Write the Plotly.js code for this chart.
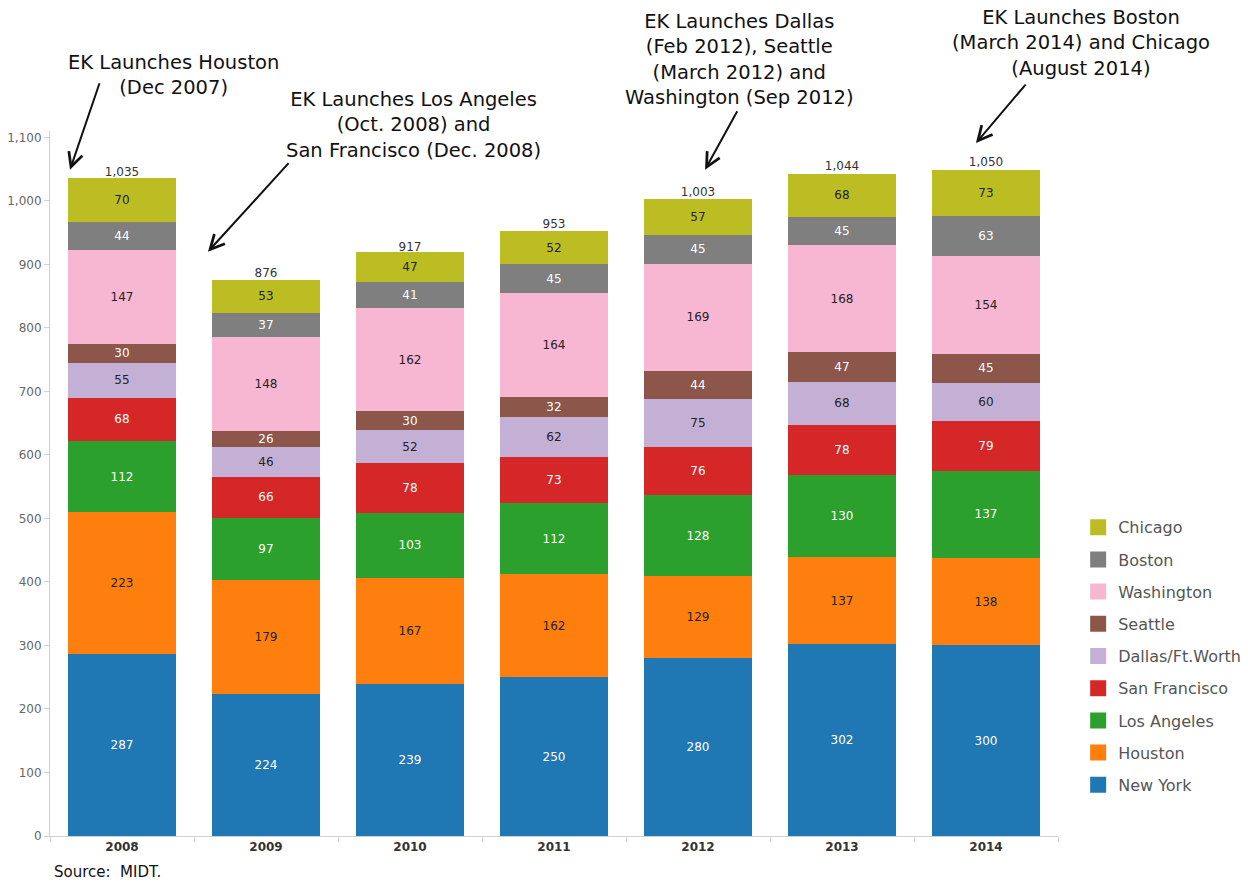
<!DOCTYPE html>
<html>
<head>
<meta charset="utf-8">
<script src="https://cdn.plot.ly/plotly-3.0.1.min.js"></script>
<style>html,body{margin:0;padding:0;background:#fff;}#chart{width:1248px;height:882px;}</style>
</head>
<body>
<div id="chart"></div>
<script>
const years = ['2008','2009','2010','2011','2012','2013','2014'];
const seriesNames = ['New York','Houston','Los Angeles','San Francisco','Dallas/Ft.Worth','Seattle','Washington','Boston','Chicago'];
const newYork = [287, 224, 239, 250, 280, 302, 300];
const houston = [223, 179, 167, 162, 129, 137, 138];
const losAngeles = [112, 97, 103, 112, 128, 130, 137];
const sanFrancisco = [68, 66, 78, 73, 76, 78, 79];
const dallas = [55, 46, 52, 62, 75, 68, 60];
const seattle = [30, 26, 30, 32, 44, 47, 45];
const washington = [147, 148, 162, 164, 169, 168, 154];
const boston = [44, 37, 41, 45, 45, 45, 63];
const chicago = [70, 53, 47, 52, 57, 68, 73];
const totals = [1035, 876, 917, 953, 1003, 1044, 1050];

const seriesValues = [newYork, houston, losAngeles, sanFrancisco, dallas, seattle, washington, boston, chicago];
const colors = ['#1f77b4','#ff7f0e','#2ca02c','#d62728','#c5b0d5','#8c564b','#f7b6d2','#7f7f7f','#bcbd22'];
const labelColors = ['#ffffff','#222222','#ffffff','#ffffff','#222222','#ffffff','#222222','#ffffff','#222222'];

const FONT = 'Tahoma, "DejaVu Sans", sans-serif';
const traces = [];
seriesNames.forEach((name, i) => {
  traces.push({
    type: 'bar', x: years, y: seriesValues[i], name: name,
    marker: {color: colors[i], line: {width: 0}},
    text: seriesValues[i].map(String), textposition: 'inside', insidetextanchor: 'middle',
    textangle: 0, constraintext: 'none',
    textfont: {family: FONT, size: 12, color: labelColors[i]},
    hoverinfo: 'skip', showlegend: false
  });
});
// legend entries, top to bottom: Chicago ... New York
for (let i = seriesNames.length - 1; i >= 0; i--) {
  traces.push({
    type: 'scatter', mode: 'markers', x: [null], y: [null], name: seriesNames[i],
    legendgroup: 'g' + i,
    marker: {symbol: 'square', size: 22, color: colors[i]},
    showlegend: true, hoverinfo: 'skip'
  });
}
traces.push({
  type: 'scatter', mode: 'text', x: years, y: totals,
  text: totals.map(v => v.toLocaleString('en-US')), textposition: 'top center',
  textfont: {family: FONT, size: 12, color: '#333333'},
  showlegend: false, hoverinfo: 'skip', cliponaxis: false
});

const annFont = {family: '"DejaVu Sans", sans-serif', size: 19.5, color: '#111111'};
const arrow = (x, y, ax, ay) => ({
  x: x, y: y, xref: 'x', yref: 'y', ax: ax, ay: ay, axref: 'pixel', ayref: 'pixel',
  text: '', showarrow: true, arrowhead: 5, arrowsize: 1.4, arrowwidth: 2, arrowcolor: '#111111'
});
const label = (x, y, txt) => ({
  x: x, y: y, xref: 'paper', yref: 'paper', xanchor: 'center', yanchor: 'middle',
  text: txt, showarrow: false, font: annFont, align: 'center'
});

const layout = {
  width: 1248, height: 882,
  paper_bgcolor: '#ffffff', plot_bgcolor: '#ffffff',
  margin: {l: 50, r: 190, t: 131, b: 46, autoexpand: false},
  barmode: 'stack', bargap: 0.25,
  separators: '.,',
  font: {family: FONT},
  xaxis: {
    type: 'category', showgrid: false, zeroline: false,
    showline: true, linecolor: '#d0d0d0', linewidth: 1,
    ticks: 'outside', tickson: 'boundaries', ticklen: 5, tickcolor: '#d0d0d0',
    tickfont: {family: FONT, size: 12, color: '#333333', weight: 'bold'},
    range: [-0.5, 6.5]
  },
  yaxis: {
    range: [0, 1110], dtick: 100, tickformat: ',d',
    showgrid: false, zeroline: false,
    showline: true, linecolor: '#d0d0d0', linewidth: 1,
    ticks: 'outside', ticklen: 5, tickcolor: '#d0d0d0',
    tickfont: {family: FONT, size: 12, color: '#666666'}
  },
  legend: {
    x: 1.02, y: 0.462, xanchor: 'left', yanchor: 'top',
    traceorder: 'grouped', tracegroupgap: 8.4,
    font: {family: '"DejaVu Sans", sans-serif', size: 16, color: '#555555'},
    itemclick: false
  },
  annotations: [
    label(0.123, 1.079, 'EK Launches Houston<br>(Dec 2007)'),
    label(0.361, 1.009, 'EK Launches Los Angeles<br>(Oct. 2008) and<br>San Francisco (Dec. 2008)'),
    label(0.6845, 1.102, 'EK Launches Dallas<br>(Feb 2012), Seattle<br>(March 2012) and<br>Washington (Sep 2012)'),
    label(1.0228, 1.125, 'EK Launches Boston<br>(March 2014) and Chicago<br>(August 2014)'),
    arrow(-0.361, 1049, 30, -88),
    arrow(0.597, 920, 82, -90),
    arrow(4.049, 1049, 33, -60),
    arrow(5.93, 1091, 51, -60),
    {x: 0.002, y: -0.051, xref: 'paper', yref: 'paper', xanchor: 'left', yanchor: 'middle',
     text: 'Source:  MIDT.', showarrow: false, font: {family: '"DejaVu Sans", sans-serif', size: 15, color: '#111111'}}
  ]
};

Plotly.newPlot('chart', traces, layout, {displayModeBar: false, staticPlot: true});
</script>
</body>
</html>
